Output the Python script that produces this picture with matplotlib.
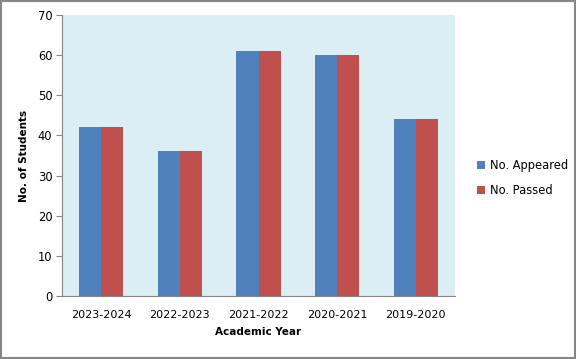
import matplotlib.pyplot as plt
import numpy as np
from matplotlib.patches import Rectangle

years = ["2023-2024", "2022-2023", "2021-2022", "2020-2021", "2019-2020"]
appeared = [42, 36, 61, 60, 44]
passed = [42, 36, 61, 60, 44]

fig = plt.figure(figsize=(5.76, 3.59), dpi=100)
ax = fig.add_axes([62 / 576, 1 - 296 / 359, (455 - 62) / 576, (296 - 15) / 359])
ax.set_facecolor("#DAEEF3")

x = np.arange(len(years))
w = 0.28
ax.bar(x - w / 2, appeared, w, color="#4F81BD", label="No. Appeared")
ax.bar(x + w / 2, passed, w, color="#C0504D", label="No. Passed")

ax.set_xlim(-0.5, len(years) - 0.5)
ax.set_ylim(0, 70)
ax.set_yticks(range(0, 71, 10))
ax.set_xticks(x)
ax.set_xticklabels(years)
for s in ["top", "right"]:
    ax.spines[s].set_visible(False)
for s in ["left", "bottom"]:
    ax.spines[s].set_color("#868686")
ax.tick_params(axis="y", length=4, color="#868686", labelsize=8.3, pad=3)
ax.tick_params(axis="x", length=0, labelsize=8, pad=10)

ax.set_xlabel("Academic Year", fontsize=7.5, fontweight="bold", labelpad=5)
ax.set_ylabel("No. of Students", fontsize=7.5, fontweight="bold", labelpad=6)

ax.legend(loc="center left", bbox_to_anchor=(1.03, 0.42), frameon=False,
          fontsize=8.3, handlelength=0.7, handleheight=0.7, labelspacing=1.1,
          handletextpad=0.4)

fig.patches.append(Rectangle((0.001, 0.002), 0.997, 0.995, transform=fig.transFigure,
                             fill=False, edgecolor="#868686", linewidth=1.5))

fig.savefig("out.png", dpi=100)
